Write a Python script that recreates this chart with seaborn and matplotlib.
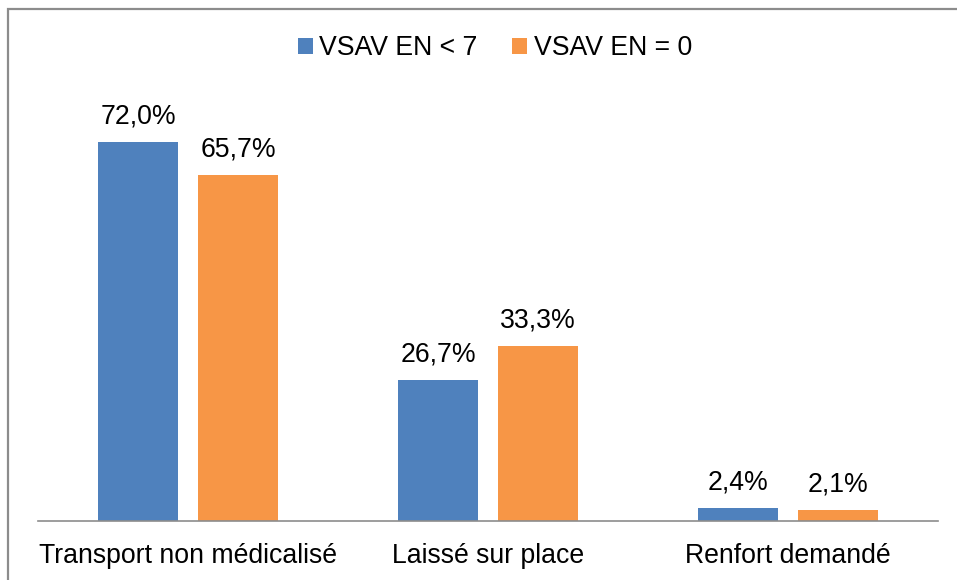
import seaborn as sb
import matplotlib.pyplot as plt
import pandas as pd
from matplotlib.patches import Rectangle

categories = ["Transport non médicalisé", "Laissé sur place", "Renfort demandé"]
series = ["VSAV EN < 7", "VSAV EN = 0"]
values_en7 = [72.0, 26.7, 2.4]
values_en0 = [65.7, 33.3, 2.1]
colors = ["#4F81BD", "#F79646"]

df = pd.DataFrame({
    "categorie": categories * 2,
    "serie": [series[0]] * 3 + [series[1]] * 3,
    "valeur": values_en7 + values_en0,
})

plt.rcParams["font.family"] = ["Liberation Sans", "DejaVu Sans"]

fig = plt.figure(figsize=(9.57, 5.8), dpi=100)
W, H = 957, 580
ax = fig.add_axes([38 / W, 1 - 521 / H, 900 / W, 421 / H])

sb.barplot(x="categorie", y="valeur", hue="serie", data=df, palette=colors,
           saturation=1, width=0.667, gap=0.2, ax=ax, legend=True)

ax.set_xlim(-0.5, 2.5)
ax.set_ylim(0, 80)

# value labels, french decimal comma
for cont in ax.containers:
    for bar in cont:
        h = bar.get_height()
        ax.annotate(f"{h:.1f}%".replace(".", ","),
                    (bar.get_x() + bar.get_width() / 2, h),
                    xytext=(0, 9), textcoords="offset points",
                    ha="center", va="bottom", fontsize=19.2)

for s in ["top", "right", "left"]:
    ax.spines[s].set_visible(False)
ax.spines["bottom"].set_color("#8c8c8c")
ax.spines["bottom"].set_linewidth(1.2)
ax.set_yticks([])
ax.set_xlabel("")
ax.set_ylabel("")
ax.tick_params(axis="x", length=0, pad=16, labelsize=19.2)

leg = ax.legend(loc="center", bbox_to_anchor=(495 / W, 1 - 48 / H),
                bbox_transform=fig.transFigure, ncol=2, frameon=False,
                fontsize=19.2, handlelength=0.55, handleheight=0.55,
                handletextpad=0.25, columnspacing=1.3)

# grey frame around the chart (right and bottom edges fall outside the image)
fig.patches.append(Rectangle((8 / W, -0.1), 1.2, 1 - 9 / H + 0.1,
                             transform=fig.transFigure, fill=False,
                             edgecolor="#8c8c8c", linewidth=1.6))

fig.savefig("out.png", dpi=100)
